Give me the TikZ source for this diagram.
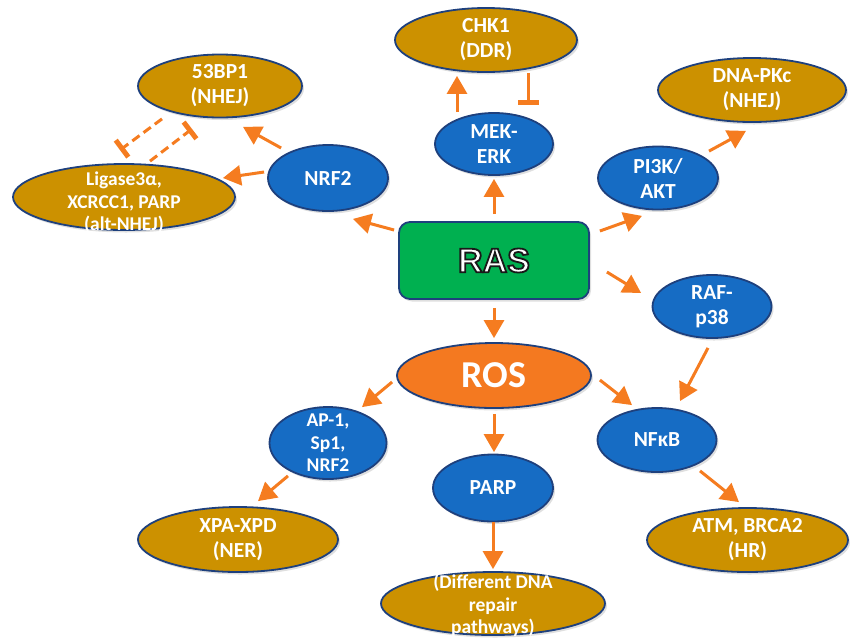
\documentclass[tikz,border=0pt]{standalone}
\usepackage{fontspec}
\setmainfont{Carlito}
\newfontfamily\rasfont{Liberation Sans}
\usetikzlibrary{shapes.geometric,arrows.meta,shadows}
\definecolor{goldc}{RGB}{204,145,0}
\definecolor{bluec}{RGB}{22,108,196}
\definecolor{bordc}{RGB}{30,64,125}
\definecolor{orc}{RGB}{245,124,32}
\definecolor{rosc}{RGB}{244,121,32}
\definecolor{grc}{RGB}{0,176,80}
\newcommand\outltext[1]{{\special{pdf:literal direct 2 Tr 1.8 w 0.1 G 1 g}#1\special{pdf:literal direct 0 Tr}}}
\tikzset{
 base/.style={ellipse, draw=bordc, line width=1.8pt, inner sep=0pt,
   drop shadow={opacity=0.25, shadow xshift=2pt, shadow yshift=-2.5pt}},
 goldn/.style={base, fill=goldc},
 bluen/.style={base, fill=bluec},
 txt/.style={text=white, font=\bfseries\fontsize{21.5}{25}\selectfont, align=center, inner sep=0pt},
 txts/.style={text=white, font=\bfseries\fontsize{19.5}{22.5}\selectfont, align=center, inner sep=0pt},
 arr/.style={draw=orc, line width=3pt, -{Triangle[length=18pt,width=20pt]}},
 inh/.style={draw=orc, line width=3pt, -{Bar[width=21pt,line width=5pt]}},
 dinh/.style={inh, dash pattern=on 9pt off 5pt},
}
\begin{document}
\begin{tikzpicture}[x=1pt,y=-1pt]
\useasboundingbox (0,0) rectangle (850,641);

% nodes
\node[goldn, minimum width=182pt, minimum height=64pt, label={[txt]center:{CHK1\\(DDR)}}] (chk) at (486,40) {};
\node[bluen, minimum width=118pt, minimum height=62pt, label={[txt]center:{MEK-\\ERK}}] (mek) at (494,144) {};
\node[goldn, minimum width=164pt, minimum height=63pt, label={[txt]center:{53BP1\\(NHEJ)}}] (bp) at (220,86) {};
\node[goldn, minimum width=222pt, minimum height=66pt, label={[txts,yshift=-6pt]center:{Ligase3α,\\XCRCC1, PARP\\(alt-NHEJ)}}] (lig) at (124,197) {};
\node[bluen, minimum width=120pt, minimum height=66pt, label={[txt]center:{NRF2}}] (nrf) at (328,178) {};
\node[goldn, minimum width=188pt, minimum height=64pt, label={[txt]center:{DNA-PKc\\(NHEJ)}}] (dnapk) at (752,90) {};
\node[bluen, minimum width=120pt, minimum height=63pt, label={[txt]center:{PI3K/\\AKT}}] (pi3k) at (658,178) {};
\node[rectangle, rounded corners=11pt, draw=bordc, line width=1.8pt, fill=grc,
  minimum width=190pt, minimum height=77pt, inner sep=0pt,
  drop shadow={opacity=0.25, shadow xshift=2pt, shadow yshift=-2.5pt},
  label={[inner sep=0pt, text=white, font=\rasfont\bfseries\fontsize{34}{36}\selectfont]center:{\outltext{RAS}}}] (ras) at (494,260.5) {};
\node[bluen, minimum width=119pt, minimum height=63pt, label={[txt]center:{RAF-\\p38}}] (raf) at (712,306.5) {};
\node[base, fill=rosc, minimum width=194pt, minimum height=65pt, label={[text=white, font=\bfseries\fontsize{38}{40}\selectfont, inner sep=0pt]center:{ROS}}] (ros) at (494,375.5) {};
\node[bluen, minimum width=117pt, minimum height=72pt, label={[txts]center:{AP-1,\\Sp1,\\NRF2}}] (ap1) at (328,443) {};
\node[bluen, minimum width=119pt, minimum height=64pt, label={[txt]center:{NFκB}}] (nfkb) at (657,440) {};
\node[bluen, minimum width=120pt, minimum height=67pt, label={[txt]center:{PARP}}] (parp) at (493,488) {};
\node[goldn, minimum width=224pt, minimum height=63pt, label={[txts,yshift=-2pt]center:{(Different DNA\\repair\\pathways)}}] (diff) at (493,603.5) {};
\node[goldn, minimum width=200pt, minimum height=65pt, label={[txt]center:{XPA-XPD\\(NER)}}] (xpa) at (238,539.5) {};
\node[goldn, minimum width=201pt, minimum height=64pt, label={[txt]center:{ATM, BRCA2\\(HR)}}] (atm) at (747.5,540) {};

% connectors
\draw[arr] ([yshift=7pt]ras.north) -- ([yshift=-3pt]mek.south);
\draw[arr] ([xshift=-37pt]mek.north) -- ([xshift=-29pt,yshift=-3pt]chk.south);
\draw[inh] ([xshift=42pt]chk.south) -- ([xshift=34pt,yshift=7pt]mek.north);
\draw[arr] ([xshift=-4pt,yshift=30.5pt]ras.west) -- ([xshift=25pt,yshift=-7pt]nrf.south);
\draw[arr] ([xshift=14pt,yshift=30pt]nrf.west) -- ([xshift=23pt,yshift=-8.5pt]bp.south);
\draw[arr] ([xshift=-3pt,yshift=6pt]nrf.west) -- ([xshift=-13pt,yshift=19pt]lig.east);
\draw[dinh] ([xshift=-58pt,yshift=-0.5pt]bp.south) -- ([xshift=-4pt,yshift=13pt]lig.north);
\draw[dinh] ([xshift=26pt,yshift=2pt]lig.north) -- ([xshift=-28pt,yshift=-10.5pt]bp.south);
\draw[arr] ([xshift=51pt,yshift=-5.5pt]pi3k.north) -- ([xshift=-6pt,yshift=-8pt]dnapk.south);
\draw[arr] ([xshift=10pt,yshift=29.5pt]ras.east) -- ([xshift=-16pt,yshift=-5.5pt]pi3k.south);
\draw[arr] ([xshift=17pt,yshift=-11.5pt]ras.east) -- ([xshift=-10.5pt,yshift=13.5pt]raf.west);
\draw[arr] ([yshift=-8pt]ras.south) -- ([yshift=4pt]ros.north);
\draw[arr] ([xshift=-4pt,yshift=-9pt]raf.south) -- ([xshift=23pt,yshift=6pt]nfkb.north);
\draw[arr] ([xshift=8pt,yshift=-4.5pt]ros.east) -- ([xshift=-25pt,yshift=2pt]nfkb.north);
\draw[arr] ([xshift=-4pt,yshift=-6.5pt]ros.west) -- ([xshift=34pt,yshift=-1pt]ap1.north);
\draw[arr] ([yshift=-5pt]ros.south) -- ([xshift=1pt,yshift=1.5pt]parp.north);
\draw[arr] (parp.south) -- ([yshift=2pt]diff.north);
\draw[arr] ([xshift=-40pt,yshift=4pt]ap1.south) -- ([xshift=20pt,yshift=5pt]xpa.north);
\draw[arr] ([xshift=43pt,yshift=2pt]nfkb.south) -- ([xshift=-8.5pt,yshift=5pt]atm.north);
\end{tikzpicture}
\end{document}
